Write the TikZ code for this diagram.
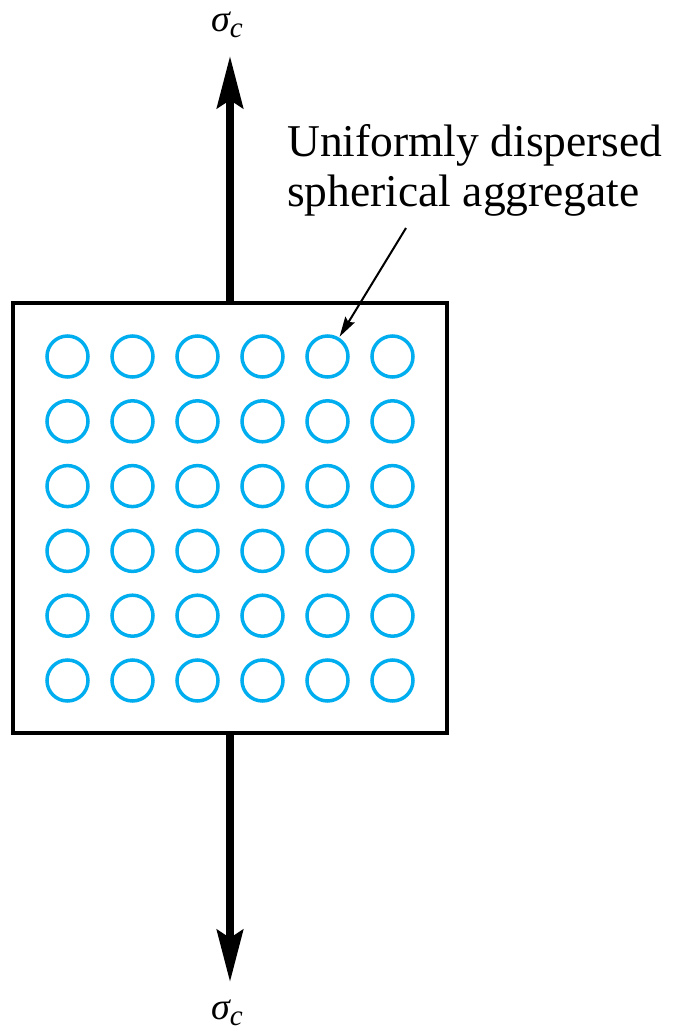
\documentclass[tikz,border=0pt]{standalone}
\usepackage{fontspec}
\setmainfont{Liberation Serif}
\usetikzlibrary{arrows.meta}
\definecolor{aggblue}{HTML}{00AEEF}
\newcommand{\sigc}{{\itshape σ\raisebox{-6pt}{\fontsize{29}{29}\selectfont c}}}
\tikzset{
  specimen/.style={draw=black, line width=4pt, minimum width=434pt, minimum height=430pt, inner sep=0pt},
  agg/.style={circle, draw=aggblue, line width=3.5pt, minimum size=41pt, inner sep=0pt},
  loadarrow/.style={line width=8pt, -{Stealth[length=52pt, width=26pt, inset=8pt]}},
  leader/.style={line width=2pt, -{Stealth[length=20pt, width=11pt, inset=3pt]}, shorten >=1pt},
  sigmalabel/.style={font=\fontsize{38}{42}\selectfont, inner sep=0pt, anchor=base},
  calllabel/.style={font=\fontsize{45.5}{50}\selectfont, align=left, inner sep=0pt}
}
\begin{document}
\begin{tikzpicture}[x=1pt,y=-1pt]
\useasboundingbox (0,0) rectangle (673,1032);
\node[specimen] (box) at (230,518) {};
\foreach \r [count=\i] in {356.5,421.3,486.1,550.9,615.7,680.5} {
  \foreach \c [count=\j] in {67.5,132.5,197.5,262.5,327.5,392.5} {
    \node[agg] (c-\i-\j) at (\c,\r) {};
  }
}
\coordinate (toptip) at (230,56);
\coordinate (bottip) at (230,982);
\draw[loadarrow] (box.north) -- (toptip);
\draw[loadarrow] (box.south) -- (bottip);
\node[sigmalabel] (stop) at (227,32) {\sigc};
\node[sigmalabel] (sbot) at (227,1019) {\sigc};
\node[calllabel, anchor=base west] (lab) at (287,207) {Uniformly dispersed\\spherical aggregate};
\coordinate (lead) at (406,228);
\draw[leader] (lead) -- (c-1-5) ;
\end{tikzpicture}
\end{document}
